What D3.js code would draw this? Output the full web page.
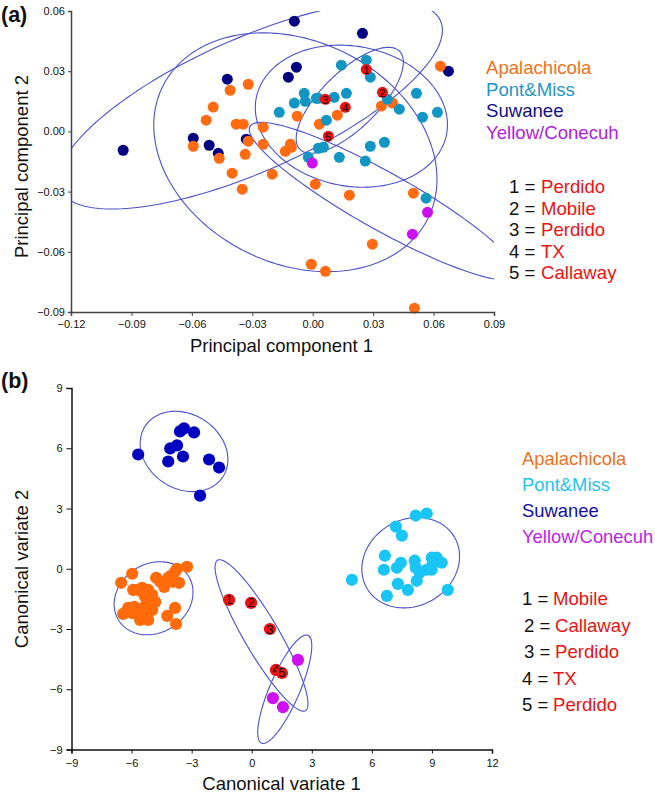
<!DOCTYPE html>
<html>
<head>
<meta charset="utf-8">
<script src="https://cdnjs.cloudflare.com/ajax/libs/d3/7.8.5/d3.min.js"></script>
<style>
    html, body { margin: 0; padding: 0; background: #fff; }
    text { font-family: "Liberation Sans", Arial, sans-serif; }
</style>
</head>
<body>
<svg id="chart" width="655" height="795"></svg>
<script>
// Panel (a): principal components.
const pcTicksX = [-0.12, -0.09, -0.06, -0.03, 0, 0.03, 0.06, 0.09];
const pcTicksY = [-0.09, -0.06, -0.03, 0, 0.03, 0.06];
const pcApalachicola = [
    [-0.032, 0.0235], [-0.041, 0.0205], [-0.0494, 0.0121], [-0.0529, 0.0056], [-0.038, 0.0036],
    [-0.0345, 0.0036], [-0.0593, -0.0074], [-0.032, -0.0049], [-0.0335, -0.0114], [-0.0464, -0.0134],
    [-0.04, -0.0208], [-0.035, -0.0288], [0.0634, 0.0325], [0.0341, 0.0126], [0.0396, 0.0141],
    [0.0122, 0.0081], [-0.0077, 0.0076], [0.0033, 0.0036], [-0.0246, 0.0021], [-0.0246, -0.0064],
    [-0.0111, -0.0064], [-0.0106, -0.0079], [-0.0136, -0.0099], [-0.0201, -0.0213], [0.0013, -0.0263],
    [0.0182, -0.0318], [0.05, -0.0308], [0.0296, -0.0562], [-0.0007, -0.0662], [0.0063, -0.0697],
    [0.0505, -0.0881],
];
const pcPontMiss = [
    [0.0142, 0.033], [0.0266, 0.0355], [0.0286, 0.027], [-0.0042, 0.019], [-0.0091, 0.0141],
    [-0.0166, 0.0095], [-0.0037, 0.015], [0.0018, 0.0165], [0.0028, 0.0165], [0.0107, 0.017],
    [0.0167, 0.019], [0.0371, 0.016], [0.043, 0.0111], [0.0515, 0.019], [0.0545, 0.0071],
    [0.0619, 0.0095], [0.0068, 0.0056], [0.0028, -0.0084], [0.0053, -0.0079], [-0.0022, -0.0129],
    [0.0132, -0.0129], [0.0286, -0.0074], [0.0356, -0.0054], [0.0261, -0.0148], [0.0563, -0.0333],
];
const pcSuwanee = [
    [-0.0424, 0.026], [-0.0593, -0.0034], [-0.0941, -0.0094], [-0.0514, -0.0069], [-0.0469, -0.0109],
    [-0.033, -0.0039], [-0.0091, 0.0549], [0.0247, 0.0489], [-0.0081, 0.032], [-0.0121, 0.027],
    [0.0674, 0.03],
];
const pcYellow = [[-0.0002, -0.0158], [0.057, -0.0403], [0.0495, -0.0512]];
const pcNumbered = [
    [0.0266, 0.0309], [0.0346, 0.0195], [0.0063, 0.016], [0.0162, 0.012], [0.0078, -0.0024],
];
// Ellipses as [centre x, centre y, half width, half height, correlation].
const pcEllipses = [
    [-0.0086, -0.0104, 0.0703, 0.0595, -0.226],
    [-0.031, 0.0131, 0.0954, 0.0518, 0.72],
    [0.0192, 0.0076, 0.0477, 0.0354, -0.12],
    [0.0184, 0.0155, 0.0266, 0.0264, 0.72],
    [0.035, -0.0348, 0.0665, 0.0393, -0.911],
];

// Panel (b): canonical variates.
const cvTicksX = [-9, -6, -3, 0, 3, 6, 9, 12];
const cvTicksY = [-9, -6, -3, 0, 3, 6, 9];
const cvApalachicola = [
    [-3.23, 0.1], [-3.73, 0], [-4.03, -0.35], [-3.63, -0.7], [-3.93, -0.65], [-4.37, -0.9],
    [-4.77, -0.45], [-5.97, -0.25], [-6.52, -0.7], [-5.92, -1.05], [-5.47, -0.95], [-5.17, -1.05],
    [-4.97, -1.3], [-4.82, -1.65], [-5.07, -1.9], [-4.97, -2.05], [-5.42, -1.95], [-5.87, -1.9],
    [-6.42, -2.25], [-5.97, -2.2], [-5.57, -2.55], [-5.17, -2.55], [-5.57, -2.15], [-3.83, -1.95],
    [-4.22, -2.35], [-3.78, -2.75], [-5.32, -1.4], [-5.22, -1.15], [-5.67, -1.05], [-5.42, -1.2],
    [-5.12, -1.5], [-5.22, -1.7], [-6.17, -1.95], [-5.82, -2.2], [-5.32, -2.2], [-4.17, -0.45],
    [-3.83, -0.15], [-4.57, -0.65],
];
const cvPontMiss = [
    [5, -0.55], [8.19, 2.65], [8.74, 2.75], [7.2, 2.1], [7.5, 1.65], [6.65, 0.65], [6.6, -0.05],
    [7.25, 0.05], [7.45, 0.3], [8.14, 0.4], [8.19, 0.05], [8.39, -0.2], [8.24, -0.6], [7.3, -0.75],
    [7.8, -1.05], [6.75, -1.35], [9.79, -1.05], [8.99, -0.05], [8.99, 0.55], [9.24, 0.55],
    [9.49, 0.3], [9.04, 0.25], [8.74, -0.05],
];
const cvSuwanee = [
    [-3.58, 6.84], [-3.38, 6.99], [-2.88, 6.79], [-3.73, 6.14], [-4.07, 5.99], [-5.67, 5.69],
    [-4.17, 5.34], [-3.43, 5.59], [-2.13, 5.44], [-1.63, 5.04], [-2.58, 3.64],
];
const cvYellow = [[2.31, -4.54], [1.06, -6.44], [1.56, -6.89]];
const cvNumbered = [[-1.13, -1.55], [-0.03, -1.7], [0.91, -3], [1.21, -5.04], [1.51, -5.19]];
const cvEllipses = [
    [-3.38, 5.84, 2.19, 2.0, -0.2],
    [-4.9, -1.47, 1.97, 1.82, 0.165],
    [7.94, 0.3, 2.44, 2.25, 0.14],
    [0.49, -3.32, 2.32, 3.77, -0.9],
    [1.65, -6.0, 1.35, 2.7, 0.8],
];

// Legend text.
const groupNames = ["Apalachicola", "Pont&Miss", "Suwanee", "Yellow/Conecuh"];
const pcKeyNames = ["Perdido", "Mobile", "Perdido", "TX", "Callaway"];
const cvKeyNames = ["Mobile", "Callaway", "Perdido", "TX", "Perdido"];

const svg = d3.select("#chart");
const ellipseColor = "#4b50cc";
const redColor = "#ee1111";

function fmt(digits) {
    return (d) => (d < 0 ? "\u2212" : "") + d3.format("." + digits + "f")(Math.abs(d));
}

function drawPanel(opts) {
    const g = svg.append("g");
    const x = d3.scaleLinear().domain(opts.domainX).range(opts.rangeX);
    const y = d3.scaleLinear().domain(opts.domainY).range(opts.rangeY);

    const clipId = "clip-" + opts.name;
    svg.append("clipPath")
        .attr("id", clipId)
        .append("rect")
        .attr("x", opts.rangeX[0])
        .attr("y", opts.rangeY[1])
        .attr("width", opts.rangeX[1] - opts.rangeX[0])
        .attr("height", opts.rangeY[0] - opts.rangeY[1]);

    // Ellipses go under the dots.
    const line = d3.line();
    const angles = d3.range(0, 2 * Math.PI + 0.01, Math.PI / 90);
    g.append("g")
        .attr("clip-path", "url(#" + clipId + ")")
        .selectAll("path")
        .data(opts.ellipses)
        .join("path")
        .attr("fill", "none")
        .attr("stroke", ellipseColor)
        .attr("stroke-width", 1.1)
        .attr("d", ([cx, cy, sx, sy, r]) =>
            line(angles.map((t) => [
                x(cx + sx * Math.cos(t)),
                y(cy + sy * (r * Math.cos(t) + Math.sqrt(1 - r * r) * Math.sin(t))),
            ]))
        );

    opts.groups.forEach(([points, color]) => {
        g.append("g")
            .selectAll("circle")
            .data(points)
            .join("circle")
            .attr("cx", (d) => x(d[0]))
            .attr("cy", (d) => y(d[1]))
            .attr("r", opts.radius)
            .attr("fill", color);
    });

    // Numbered red dots.
    const numbered = g.append("g")
        .selectAll("g")
        .data(opts.numbered)
        .join("g")
        .attr("transform", (d) => `translate(${x(d[0])},${y(d[1])})`);
    numbered.append("circle").attr("r", opts.radius).attr("fill", redColor);
    numbered.append("text")
        .attr("text-anchor", "middle")
        .attr("y", 4.5)
        .attr("font-size", opts.numberSize)
        .attr("fill", "#111")
        .text((d, i) => i + 1);

    // Axes.
    const axisX = g.append("g")
        .attr("transform", `translate(0,${opts.rangeY[0]})`)
        .call(d3.axisBottom(x).tickValues(opts.ticksX).tickSize(4).tickPadding(opts.padX).tickFormat(fmt(opts.digits)));
    const axisY = g.append("g")
        .attr("transform", `translate(${opts.rangeX[0]},0)`)
        .call(d3.axisLeft(y).tickValues(opts.ticksY).tickSize(opts.tickY).tickPadding(opts.padY).tickFormat(fmt(opts.digits)));
    [axisX, axisY].forEach((a) => {
        a.selectAll("text").attr("font-size", 11).attr("fill", "#111")
            .style("font-family", '"Liberation Sans", Arial, sans-serif');
        a.selectAll("line").attr("stroke", opts.axisColor).attr("stroke-width", 1);
        a.select(".domain").attr("stroke", opts.axisColor).attr("stroke-width", 1.5);
    });

    // Axis titles.
    g.append("text")
        .attr("x", opts.titleX)
        .attr("y", opts.titleXBase)
        .attr("text-anchor", "middle")
        .attr("font-size", 18.5)
        .attr("fill", "#111")
        .text(opts.labelX);
    g.append("text")
        .attr("transform", `translate(28,${opts.titleYCentre}) rotate(-90)`)
        .attr("text-anchor", "middle")
        .attr("font-size", 18.5)
        .attr("fill", "#111")
        .text(opts.labelY);
}

function label(x, yPos, str, color, size, weight) {
    svg.append("text")
        .attr("x", x)
        .attr("y", yPos)
        .attr("font-size", size)
        .attr("font-weight", weight || "normal")
        .attr("fill", color)
        .text(str);
}

drawPanel({
    name: "pc",
    domainX: [-0.12, 0.09],
    domainY: [-0.09, 0.06],
    rangeX: [71, 494],
    rangeY: [312, 11],
    ticksX: pcTicksX,
    ticksY: pcTicksY,
    digits: 2,
    ellipses: pcEllipses,
    groups: [
        [pcSuwanee, "#000080"],
        [pcApalachicola, "#ff6a13"],
        [pcPontMiss, "#1296c4"],
        [pcYellow, "#cc11ee"],
    ],
    numbered: pcNumbered,
    radius: 5.5,
    numberSize: 11,
    axisColor: "#444",
    padX: 4,
    padY: 3,
    tickY: 3,
    labelX: "Principal component 1",
    labelY: "Principal component 2",
    titleX: 281.5,
    titleXBase: 352,
    titleYCentre: 166.5,
});

drawPanel({
    name: "cv",
    domainX: [-9, 12],
    domainY: [-9, 9],
    rangeX: [71.5, 492],
    rangeY: [749.5, 388],
    ticksX: cvTicksX,
    ticksY: cvTicksY,
    digits: 0,
    ellipses: cvEllipses,
    groups: [
        [cvSuwanee, "#0000c0"],
        [cvApalachicola, "#ff6a0a"],
        [cvPontMiss, "#19c5f5"],
        [cvYellow, "#cc11ee"],
    ],
    numbered: cvNumbered,
    radius: 6.1,
    numberSize: 13,
    axisColor: "#111",
    padX: 6,
    padY: 4,
    tickY: 5,
    labelX: "Canonical variate 1",
    labelY: "Canonical variate 2",
    titleX: 281.5,
    titleXBase: 790,
    titleYCentre: 569,
});

// Panel letters.
label(1, 22, "(a)", "#111", 21.5, "bold");
label(1, 388, "(b)", "#111", 21.5, "bold");

// Group legends.
const pcLegendColors = ["#f07020", "#2496c4", "#10108a", "#b020e0"];
const cvLegendColors = ["#f07020", "#22c4f0", "#1010a8", "#c020e8"];
groupNames.forEach((name, i) => {
    label(486, 74 + i * 21.5, name, pcLegendColors[i], 18.6);
    label(522, 465 + i * 26, name, cvLegendColors[i], 18.4);
});

// Numbered keys.
pcKeyNames.forEach((name, i) => {
    label(509, 193 + i * 21.5, (i + 1) + " =", "#111", 18.6);
    label(541, 193 + i * 21.5, name, redColor, 18.6);
});
const cvKeyX = [522, 524, 524, 522, 522];
cvKeyNames.forEach((name, i) => {
    label(cvKeyX[i], 605 + i * 26.5, (i + 1) + " =", "#111", 18.6);
    label(cvKeyX[i] + 31, 605 + i * 26.5, name, redColor, 18.6);
});
</script>
</body>
</html>
